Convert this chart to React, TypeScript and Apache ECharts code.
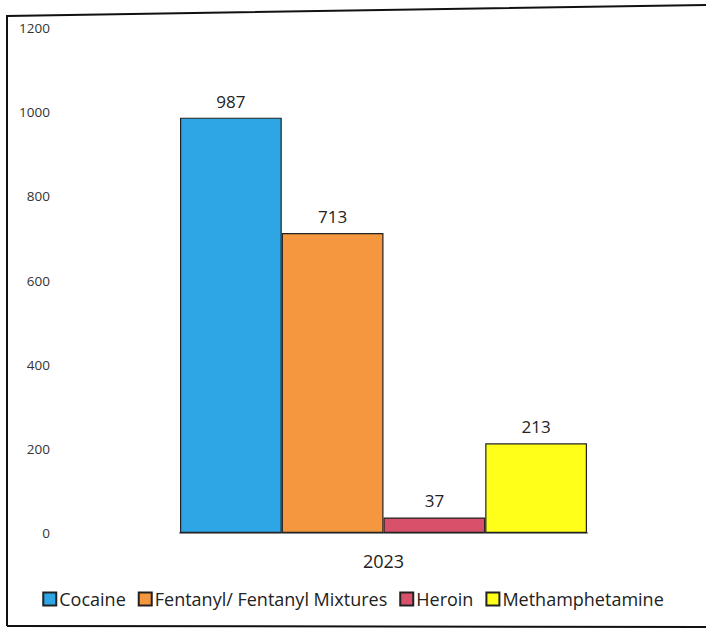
import React, { useEffect, useRef } from "react";
import * as echarts from "echarts";

const categories = ["2023"];
const seriesNames = ["Cocaine", "Fentanyl/ Fentanyl Mixtures", "Heroin", "Methamphetamine"];
const seriesValues = [[987], [713], [37], [213]];
const seriesColors = ["#2ea6e6", "#f5973f", "#d9506a", "#ffff1a"];
const yTicks = { min: 0, max: 1200, interval: 200 };

export default function App() {
  const ref = useRef<HTMLDivElement>(null);
  useEffect(() => {
    if (!ref.current) return;
    const chart = echarts.init(ref.current, null, { renderer: "svg" });
    const font = "Open Sans";
    chart.setOption({
      animation: false,
      backgroundColor: "#fff",
      textStyle: { fontFamily: font },
      grid: { left: 180, top: 28, width: 407, height: 505 },
      xAxis: {
        type: "category",
        data: categories,
        axisLine: { show: true, lineStyle: { color: "#8a8a8a", width: 2 } },
        axisTick: { show: false },
        axisLabel: { fontSize: 18, color: "#222", margin: 19, fontFamily: font },
      },
      yAxis: {
        type: "value",
        min: yTicks.min,
        max: yTicks.max,
        interval: yTicks.interval,
        splitLine: { show: false },
        axisLine: { show: false },
        axisTick: { show: false },
        axisLabel: {
          fontSize: 13.5,
          color: "#333",
          margin: 130,
          fontFamily: font,
          formatter: (v: number) => String(v),
        },
      },
      legend: {
        bottom: 15,
        left: "center",
        itemWidth: 13,
        itemHeight: 13,
        itemGap: 12,
        textStyle: { fontSize: 18, color: "#222", fontFamily: font, padding: [0, 0, 0, -2] },
        data: seriesNames.map((n) => ({ name: n, icon: "rect" })),
      },
      series: seriesNames.map((name, i) => ({
        name,
        type: "bar",
        data: seriesValues[i],
        barGap: "0%",
        barCategoryGap: "0%",
        itemStyle: { color: seriesColors[i], borderColor: "#222", borderWidth: 1.2 },
        label: { show: true, position: "top", distance: 8, fontSize: 17, color: "#222", fontFamily: font },
      })),
      graphic: [
        {
          type: "polyline",
          shape: { points: [[7, 626], [7, 16], [706, 5]] },
          style: { stroke: "#111", lineWidth: 2, fill: "none" },
        },
        {
          type: "line",
          shape: { x1: 7, y1: 626, x2: 706, y2: 627 },
          style: { stroke: "#111", lineWidth: 2 },
        },
      ],
    });
    return () => chart.dispose();
  }, []);
  return <div ref={ref} style={{ position: "fixed", left: 0, top: 0, width: 706, height: 628 }} />;
}
